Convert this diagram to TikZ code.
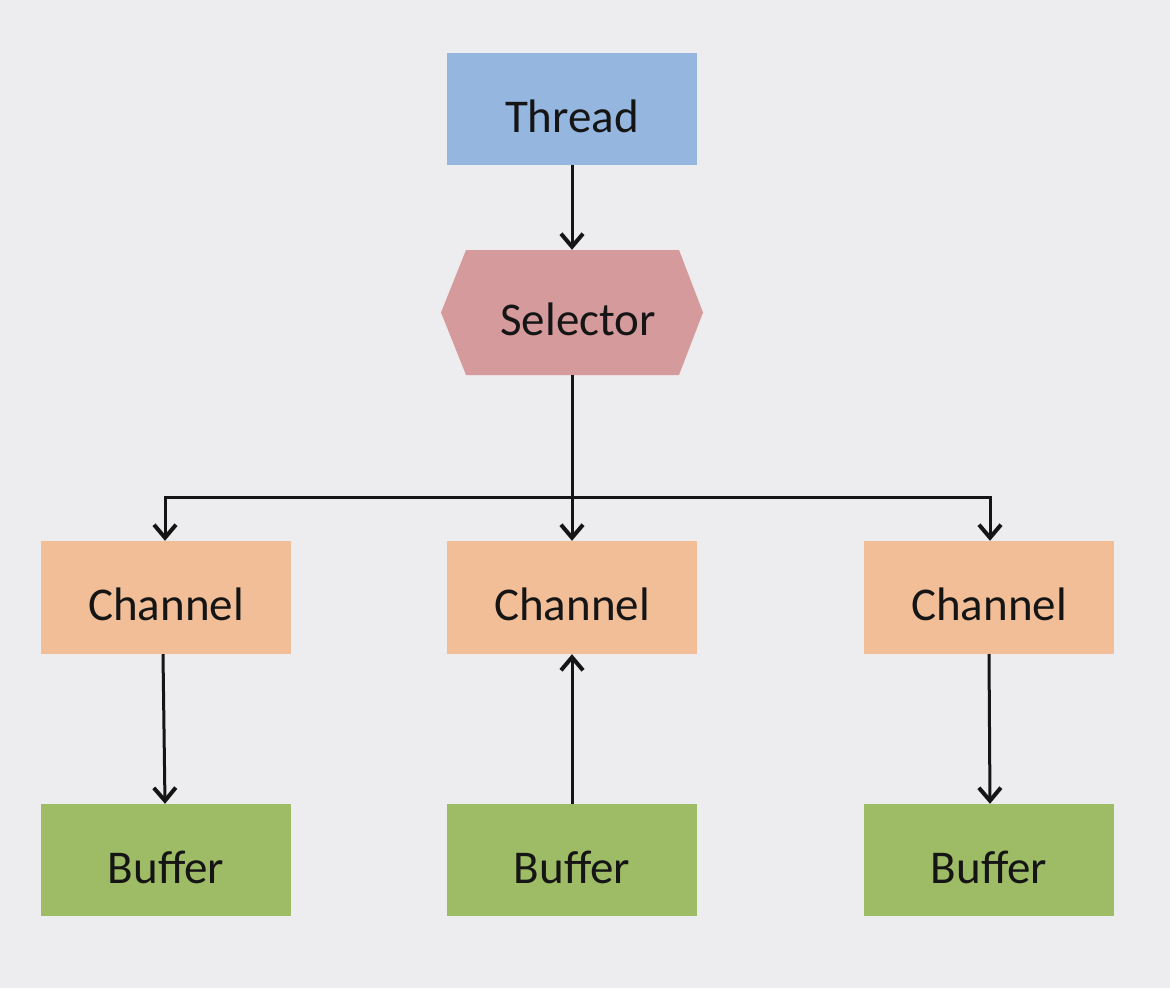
\documentclass[tikz,border=0pt]{standalone}
\usepackage{fontspec}
\setmainfont{Carlito}
\usetikzlibrary{arrows.meta,calc}
\definecolor{bg}{HTML}{EDECEE}
\definecolor{threadc}{HTML}{95B7DF}
\definecolor{selc}{HTML}{D49A9C}
\definecolor{chanc}{HTML}{F2BE98}
\definecolor{bufc}{HTML}{9EBB65}
\definecolor{ink}{HTML}{151515}
\tikzset{
  box/.style={draw=none, inner sep=0pt, minimum width=250pt, minimum height=112pt,
    font=\fontsize{47pt}{56pt}\selectfont, text height=51.7pt, text depth=5.6pt, text=ink},
  arr/.style={line width=3pt, draw=ink, -{Straight Barb[length=13pt,width=22pt,line width=4pt]}}
}
\begin{document}
\begin{tikzpicture}[x=1pt,y=-1pt]
\useasboundingbox (0,0) rectangle (1170,988);
\fill[bg] (0,0) rectangle (1170,988);
% nodes
\node[box, fill=threadc] (thr) at (572,109) {Thread};
\fill[selc] (441,312.5) -- (466,250) -- (679,250) -- (703,312.5) -- (679,375) -- (466,375) -- cycle;
\node[box, minimum width=262pt, minimum height=125pt] (sel) at (572,312.5) {};
\node[box, minimum width=0pt, minimum height=0pt] (selt) at (578,312.5) {Selector};
\node[box, fill=chanc, minimum height=113pt] (cl) at (166,597.5) {Channel};
\node[box, fill=chanc, minimum height=113pt] (cm) at (572,597.5) {Channel};
\node[box, fill=chanc, minimum height=113pt] (cr) at (989,597.5) {Channel};
\node[box, fill=bufc] (bl) at (166,860) {Buffer};
\node[box, fill=bufc] (bm) at (572,860) {Buffer};
\node[box, fill=bufc] (br) at (989,860) {Buffer};
\coordinate (bus) at (572,497);
% connectors
\draw[arr] (thr.south) -- (sel.north);
\draw[arr] (sel.south) -- (cm.north);
\draw[arr] (bus) -| ([xshift=-1pt]cl.north);
\draw[arr] (bus) -| ([xshift=1pt]cr.north);
\draw[arr] ([xshift=-3pt]cl.south) -- ([xshift=-1pt]bl.north);
\draw[arr] (bm.north) -- (cm.south);
\draw[arr] (cr.south) -- ([xshift=1pt]br.north);
\end{tikzpicture}
\end{document}
